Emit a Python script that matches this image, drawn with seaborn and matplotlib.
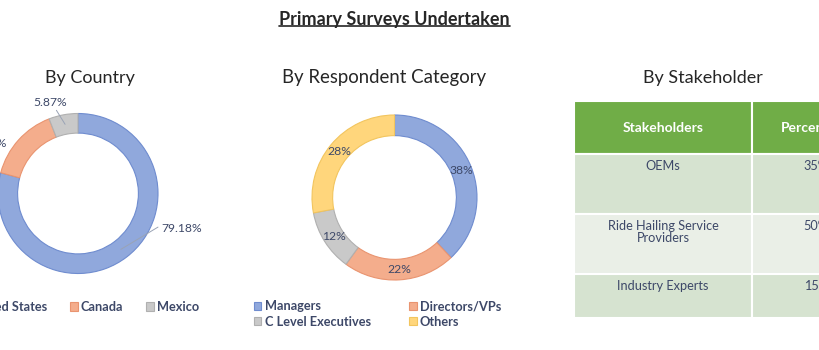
import matplotlib
matplotlib.use("Agg")
import matplotlib.pyplot as plt
from matplotlib.patches import Rectangle
from matplotlib.lines import Line2D
import numpy as np
import seaborn as sns

# ---------------- data ----------------
countries = ["United States", "Canada", "Mexico"]
country_share = [79.18, 14.95, 5.87]
country_labels = ["79.18%", "14.95%", "5.87%"]

categories = ["Managers", "Directors/VPs", "C Level Executives", "Others"]
category_share = [38, 22, 12, 28]
category_labels = ["38%", "22%", "12%", "28%"]

table_columns = ["Stakeholders", "Percentage"]
stakeholders = ["OEMs", "Ride Hailing Service\nProviders", "Industry Experts"]
stakeholder_share = ["35%", "50%", "15%"]

# ---------------- style ----------------
sns.set_theme(style="white")
plt.rcParams["font.family"] = ["Lato", "DejaVu Sans"]

fills = sns.color_palette(["#90A8DC", "#F4AD8C", "#C9C9C9", "#FFD67C"])
edges = sns.color_palette(["#6F8CCF", "#E99470", "#B0B0B0", "#F2C55E"])
label_color = "#3D4868"
title_color = "#262626"

W, H = 820, 350
fig = plt.figure(figsize=(W / 100, H / 100), dpi=100)
fig.patch.set_facecolor("white")


def px_axes(cx, cy, r):
    return fig.add_axes([(cx - r) / W, 1 - (cy + r) / H, 2 * r / W, 2 * r / H])


def fx(x):
    return x / W


def fy(y):
    return 1 - y / H


# ---------------- titles ----------------
t = fig.text(fx(394.5), fy(19), "Primary Surveys Undertaken", ha="center", va="center",
             fontsize=13, fontweight="bold", color=title_color)
fig.text(fx(90), fy(78), "By Country", ha="center", va="center", fontsize=13, color=title_color)
fig.text(fx(384), fy(78), "By Respondent Category", ha="center", va="center", fontsize=13.4, color=title_color)
fig.text(fx(703), fy(78), "By Stakeholder", ha="center", va="center", fontsize=13, color=title_color)

# ---------------- donut 1: by country ----------------
ax1 = px_axes(78, 193.5, 80)
w1, _ = ax1.pie(country_share, colors=fills[:3], startangle=90, counterclock=False,
                radius=1, wedgeprops=dict(width=0.245, linewidth=0.8))
for w, e in zip(w1, edges[:3]):
    w.set_edgecolor(e)
    w.set_clip_on(False)
ax1.set_xlim(-1, 1)
ax1.set_ylim(-1, 1)
ax1.axis("off")

# label placement (layout): text anchor, alignment, leader?
c_label_pos = [(1.04, -0.44, "left", True), (-0.9, 0.63, "right", False), (-0.35, 1.14, "center", True)]
for w, lab, (tx, ty, ha, lead) in zip(w1, country_labels, c_label_pos):
    mid = np.deg2rad((w.theta1 + w.theta2) / 2)
    rx, ry = 0.88 * np.cos(mid), 0.88 * np.sin(mid)
    ax1.text(tx, ty, lab, ha=ha, va="center", fontsize=8.7, color=label_color, clip_on=False)
    if lead:
        if ha == "left":
            ex, ey = tx - 0.04, ty + 0.02
        else:
            ex, ey = tx + 0.08, ty - 0.1
        ax1.plot([rx, ex], [ry, ey], color="#9AA3B5", lw=0.7, clip_on=False)

fig.legend(w1, countries, loc="center", bbox_to_anchor=(fx(79), fy(307)), ncol=3,
           frameon=False, handlelength=0.6, handleheight=0.6, handletextpad=0.25,
           columnspacing=1.8, prop=dict(size=9.2, weight="bold"), labelcolor=label_color)

# ---------------- donut 2: by respondent category ----------------
ax2 = px_axes(394.5, 197.5, 82.5)
w2, _ = ax2.pie(category_share, colors=fills, startangle=90, counterclock=False,
                radius=1, wedgeprops=dict(width=0.25, linewidth=0.8))
for w, e, lab in zip(w2, edges, category_labels):
    w.set_edgecolor(e)
    w.set_clip_on(False)
    mid = np.deg2rad((w.theta1 + w.theta2) / 2)
    ax2.text(0.875 * np.cos(mid), 0.875 * np.sin(mid), lab, ha="center", va="center",
             fontsize=8.7, color=label_color)
ax2.set_xlim(-1, 1)
ax2.set_ylim(-1, 1)
ax2.axis("off")

order = [0, 2, 1, 3]
fig.legend([w2[i] for i in order], [categories[i] for i in order], loc="center",
           bbox_to_anchor=(fx(377.5), fy(314)), ncol=2, frameon=False,
           handlelength=0.6, handleheight=0.6, handletextpad=0.25, labelspacing=0.3,
           columnspacing=3.0, prop=dict(size=9.2, weight="bold"), labelcolor=label_color)

# ---------------- table: by stakeholder ----------------
col_w = [178, 128]
row_h = [53, 60, 60, 44]
x0, y0 = 574, 101
tax = fig.add_axes([fx(x0), fy(y0 + sum(row_h)), sum(col_w) / W, sum(row_h) / H])
tax.set_xlim(0, sum(col_w))
tax.set_ylim(sum(row_h), 0)
tax.axis("off")

header_color = "#70AD47"
band_colors = ["#D6E3D0", "#EAEFE7"]
rows = [table_columns] + [[s, v] for s, v in zip(stakeholders, stakeholder_share)]
ytop = 0
for r, (row, h) in enumerate(zip(rows, row_h)):
    xl = 0
    for c, (txt, cw) in enumerate(zip(row, col_w)):
        fc = header_color if r == 0 else band_colors[(r - 1) % 2]
        tax.add_patch(Rectangle((xl, ytop), cw, h, facecolor=fc, edgecolor="white",
                                linewidth=1.5, clip_on=False))
        if r == 0:
            tax.text(xl + cw / 2, ytop + h / 2, txt, ha="center", va="center", fontsize=10,
                     fontweight="bold", color="white", clip_on=False)
        else:
            tax.text(xl + cw / 2, ytop + 6, txt, ha="center", va="top", fontsize=9.2,
                     color=label_color, linespacing=1.0, clip_on=False)
        xl += cw
    ytop += h

# ---------------- underline main title ----------------
fig.canvas.draw()
bb = t.get_window_extent(fig.canvas.get_renderer()).transformed(fig.transFigure.inverted())
fig.add_artist(Line2D([bb.x0, bb.x1], [bb.y0 + 0.004, bb.y0 + 0.004], color=title_color,
                      lw=1.2, transform=fig.transFigure))

fig.savefig("out.png", dpi=100, facecolor="white")
